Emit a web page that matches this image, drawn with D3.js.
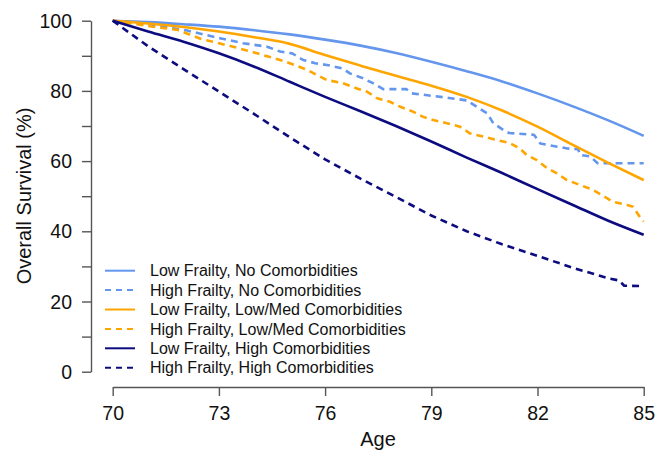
<!DOCTYPE html>
<html>
<head>
<meta charset="utf-8">
<script src="https://cdn.jsdelivr.net/npm/d3@7"></script>
<style>
  body { margin: 0; background: #fff; }
  svg { display: block; font-family: "Liberation Sans", Arial, Helvetica, sans-serif; }
</style>
</head>
<body>
<div id="chart"></div>
<script>
// Series data (age, overall survival %)
const ageYears = [70, 71, 72, 73, 74, 75, 76, 77, 78, 79, 80, 81, 82, 83, 84, 85];

const lowFrailNoComorb = [100, 99.6, 99.0, 98.3, 97.3, 96.1, 94.6, 92.9, 90.8, 88.3, 85.6, 82.7, 79.3, 75.6, 71.6, 67.2];
const lowFrailLowMed = [100, 99.2, 98.2, 96.9, 95.3, 93.4, 90.2, 87.2, 84.3, 81.5, 78.3, 74.4, 69.8, 64.6, 59.5, 54.6];
const lowFrailHigh = [100, 96.9, 94.0, 90.7, 86.9, 82.6, 78.3, 74.2, 70.0, 65.6, 61.0, 56.6, 52.0, 47.5, 43.0, 39.0];

const highFrailNoAges = [70, 71.14, 72.1, 73.03, 73.68, 74.36, 74.73, 75.07, 75.38, 75.72, 76.05, 76.5, 76.7, 77.07, 77.35, 77.64, 78.3, 78.45, 79.5, 80.0, 80.2, 80.58, 80.75, 81.03, 81.2, 81.9, 82.08, 82.84, 83.15, 83.2, 83.49, 83.7, 85];
const highFrailNoComorb = [100, 98.8, 97.2, 95.0, 93.6, 92.6, 91.2, 90.7, 88.8, 87.9, 87.4, 86.4, 85.0, 83.6, 82.2, 80.5, 80.5, 79.3, 78.0, 77.3, 76.0, 73.6, 70.8, 68.9, 68.0, 67.5, 65.0, 63.6, 63.4, 61.8, 61.3, 59.4, 59.4];

const highFrailLowMedAges = [70, 71.14, 71.82, 72.5, 73.4, 74.08, 74.73, 75.0, 75.49, 75.77, 76.05, 76.5, 76.9, 77.18, 77.47, 77.83, 78.12, 78.48, 78.77, 79.05, 79.44, 79.81, 80.09, 80.46, 80.86, 81.22, 81.5, 81.7, 81.98, 82.27, 82.55, 82.83, 83.2, 83.57, 83.82, 84.13, 84.53, 84.7, 84.95, 85];
const highFrailLowMed = [100, 98.3, 97.4, 94.8, 92.6, 90.7, 88.8, 87.9, 86.0, 84.5, 83.1, 82.2, 80.7, 79.8, 77.9, 76.9, 75.5, 74.1, 72.6, 71.7, 70.8, 69.8, 67.9, 67.0, 66.0, 65.1, 63.6, 61.7, 60.3, 58.0, 56.5, 54.6, 53.2, 51.8, 50.3, 48.4, 47.5, 47.0, 43.2, 42.8];

const highFrailHighAges = [70, 71, 72, 73, 74, 75, 76, 77, 78, 79, 80, 81, 82, 83, 84, 84.3, 84.45, 85];
const highFrailHigh = [100, 92.7, 86.2, 79.8, 73.4, 66.8, 60.5, 55.0, 49.8, 44.5, 40.0, 36.3, 33.0, 29.6, 26.6, 26.0, 24.5, 24.4];

const xTicks = [70, 73, 76, 79, 82, 85];
const yTicks = [0, 10, 20, 30, 40, 50, 60, 70, 80, 90, 100];

const seriesNames = [
  "Low Frailty, No Comorbidities",
  "High Frailty, No Comorbidities",
  "Low Frailty, Low/Med Comorbidities",
  "High Frailty, Low/Med Comorbidities",
  "Low Frailty, High Comorbidities",
  "High Frailty, High Comorbidities"
];

const blue = "#6496ee", orange = "#ffa500", navy = "#0c0c80";

const series = [
  { name: seriesNames[0], ages: ageYears, vals: lowFrailNoComorb, color: blue, dashed: false },
  { name: seriesNames[1], ages: highFrailNoAges, vals: highFrailNoComorb, color: blue, dashed: true },
  { name: seriesNames[2], ages: ageYears, vals: lowFrailLowMed, color: orange, dashed: false },
  { name: seriesNames[3], ages: highFrailLowMedAges, vals: highFrailLowMed, color: orange, dashed: true },
  { name: seriesNames[4], ages: ageYears, vals: lowFrailHigh, color: navy, dashed: false },
  { name: seriesNames[5], ages: highFrailHighAges, vals: highFrailHigh, color: navy, dashed: true }
];

const width = 658;
const height = 451;
const svg = d3.select("#chart")
  .append("svg")
  .attr("width", width)
  .attr("height", height);

// Scales
const x = d3.scaleLinear().domain([70, 85]).range([112.7, 643.7]);
const y = d3.scaleLinear().domain([0, 100]).range([371.7, 20.7]);

// Axes
const xAxis = svg.append("g")
  .attr("transform", "translate(0, 387)")
  .call(d3.axisBottom(x).tickValues(xTicks).tickSize(9).tickSizeOuter(0).tickPadding(10));
const yAxis = svg.append("g")
  .attr("transform", "translate(91, 0)")
  .call(d3.axisLeft(y).tickValues(yTicks).tickSize(9).tickSizeOuter(0).tickPadding(10)
    .tickFormat(d => d % 20 === 0 ? d : ""));

[xAxis, yAxis].forEach(g => {
  g.select(".domain").attr("stroke", "#555").attr("stroke-width", 1.4);
  g.selectAll(".tick line").attr("stroke", "#555").attr("stroke-width", 1.4);
  g.selectAll(".tick text").attr("fill", "#111").style("font-size", "19.5px");
});
xAxis.selectAll(".tick text").attr("dy", "0.71em");
yAxis.selectAll(".tick text").attr("dy", "0.34em");

// Axis titles
svg.append("text")
  .attr("x", 378)
  .attr("y", 446)
  .attr("text-anchor", "middle")
  .style("font-size", "20px")
  .attr("fill", "#111")
  .text("Age");
svg.append("text")
  .attr("transform", "translate(31, 196) rotate(-90)")
  .attr("text-anchor", "middle")
  .style("font-size", "20px")
  .attr("fill", "#111")
  .text("Overall Survival (%)");

// Lines: smooth curves for the low frailty groups, raw steps for high frailty
const smoothLine = d3.line()
  .x(d => x(d[0]))
  .y(d => y(d[1]))
  .curve(d3.curveMonotoneX);
const rawLine = d3.line()
  .x(d => x(d[0]))
  .y(d => y(d[1]));

series.forEach(s => {
  svg.append("path")
    .datum(s.ages.map((a, i) => [a, s.vals[i]]))
    .attr("d", s.dashed ? rawLine : smoothLine)
    .attr("fill", "none")
    .attr("stroke", s.color)
    .attr("stroke-width", 2.6)
    .attr("stroke-linejoin", "round")
    .attr("stroke-dasharray", s.dashed ? "7,5" : null);
});

// Legend
const legend = svg.append("g");
series.forEach((s, i) => {
  const ly = 270.7 + i * 19.4;
  legend.append("line")
    .attr("x1", 105).attr("x2", 135)
    .attr("y1", ly).attr("y2", ly)
    .attr("stroke", s.color)
    .attr("stroke-width", 2)
    .attr("stroke-dasharray", s.dashed ? "6,5" : null);
  legend.append("text")
    .attr("x", 150)
    .attr("y", ly + 5.7)
    .style("font-size", "16px")
    .attr("fill", "#111")
    .text(s.name);
});
</script>
</body>
</html>
